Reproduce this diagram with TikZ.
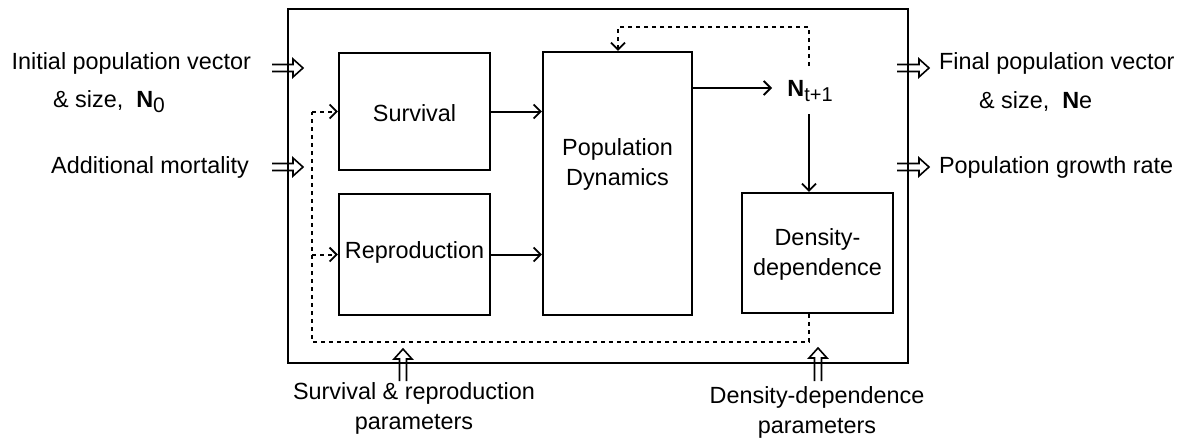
\documentclass[tikz,border=0pt]{standalone}
\usepackage{fontspec}
\setmainfont{Liberation Sans}
\usetikzlibrary{arrows.meta,calc,fit}
\begin{document}
\begin{tikzpicture}[x=0.5pt,y=-0.5pt,
  every node/.style={font=\fontsize{11.7pt}{15pt}\selectfont},
  box/.style={draw, line width=1.2pt, inner sep=0pt},
  wire/.style={line width=1pt},
  arr/.style={wire, -{Straight Barb[length=3.5pt,width=7pt,line width=0.9pt]}},
  dsh/.style={line width=1pt, dash pattern=on 2pt off 2pt},
  hright/.style={line width=0.8pt, to path={let \p1=(\tikztostart), \p2=(\tikztotarget) in
     (\x1,\y1+1.75pt) -- (\x2-5pt,\y1+1.75pt) -- (\x2-5pt,\y1+4.5pt) -- (\x2,\y1)
     -- (\x2-5pt,\y1-4.5pt) -- (\x2-5pt,\y1-1.75pt) -- (\x1,\y1-1.75pt)}},
  hup/.style={line width=0.8pt, to path={let \p1=(\tikztostart), \p2=(\tikztotarget) in
     (\x1-1.75pt,\y1) -- (\x1-1.75pt,\y2-5pt) -- (\x1-4.5pt,\y2-5pt) -- (\x1,\y2)
     -- (\x1+4.5pt,\y2-5pt) -- (\x1+1.75pt,\y2-5pt) -- (\x1+1.75pt,\y1)}}
]
\useasboundingbox (0,0) rectangle (1188,446);

% boxes
\node[box, fit={(288,9) (908,363)}] (sys) {};
\node[box, fit={(339,53) (490,170)}] (surv) {};
\node[box, fit={(339,194) (490,315)}] (rep) {};
\node[box, fit={(543,52) (692,315)}] (pd) {};
\node[box, fit={(742,193) (893,313)}] (dd) {};
\node (survl) at (414.5,113) {Survival};
\node (repl) at (414.5,252) {Reproduction};
\node[align=center] (pdl) at (617.5,164) {Population\\Dynamics};
\node[align=center] (ddl) at (817.5,254) {Density-\\dependence};

% N_{t+1}
\node[anchor=base west, inner sep=0pt] (nt) at (787,96)
  {\textbf{N}\raisebox{-2.5pt}{\fontsize{10pt}{11pt}\selectfont t+1}};

% internal connectors
\coordinate (nin) at (772,88);
\coordinate (ntop) at (809,66);
\coordinate (nbot) at (809,114);
\coordinate (fbt) at (618,27);
\coordinate (fbc) at (312,342);
\draw[arr] (pd.east |- nin) -- (nin);
\draw[dsh,arr] (ntop) |- (fbt) -- (fbt |- pd.north);
\draw[arr] (nbot) -- (nbot |- dd.north);
\draw[dsh] (dd.south -| nbot) |- (fbc) -- (fbc |- surv.west);
\draw[dsh,arr] (fbc |- surv.west) -- (surv.west);
\draw[dsh,arr] (fbc |- rep.west) -- (rep.west);
\draw[arr] (surv.east) -- (surv.east -| pd.west);
\draw[arr] (rep.east) -- (rep.east -| pd.west);

% left inputs
\node[anchor=east] (init) at (258,63) {Initial population vector};
\node[anchor=west] (init2) at (46,102) {\& size,\ \ \textbf{N}\raisebox{-2.5pt}{\fontsize{10.5pt}{11pt}\selectfont 0}};
\node[anchor=east] (addm) at (256,167) {Additional mortality};
\coordinate (a1s) at (272,68);  \coordinate (a1e) at (303,68);
\coordinate (a2s) at (272,167); \coordinate (a2e) at (303,167);
\draw[hright] (a1s) to (a1e);
\draw[hright] (a2s) to (a2e);

% right outputs
\node[anchor=west] (fin) at (932,63) {Final population vector};
\node[anchor=west] (fin2) at (972,102) {\& size,\ \ \textbf{N}e};
\node[anchor=west] (pgr) at (932,167) {Population growth rate};
\coordinate (b1s) at (897,68);  \coordinate (b1e) at (929,68);
\coordinate (b2s) at (897,167); \coordinate (b2e) at (929,167);
\draw[hright] (b1s) to (b1e);
\draw[hright] (b2s) to (b2e);

% bottom parameters
\node[align=center] (srp) at (414,408) {Survival \& reproduction\\parameters};
\node[align=center] (ddp) at (817,412) {Density-dependence\\parameters};
\coordinate (c1s) at (403,381); \coordinate (c1e) at (403,349);
\coordinate (c2s) at (818,381); \coordinate (c2e) at (818,348);
\draw[hup] (c1s) to (c1e);
\draw[hup] (c2s) to (c2e);
\end{tikzpicture}
\end{document}
